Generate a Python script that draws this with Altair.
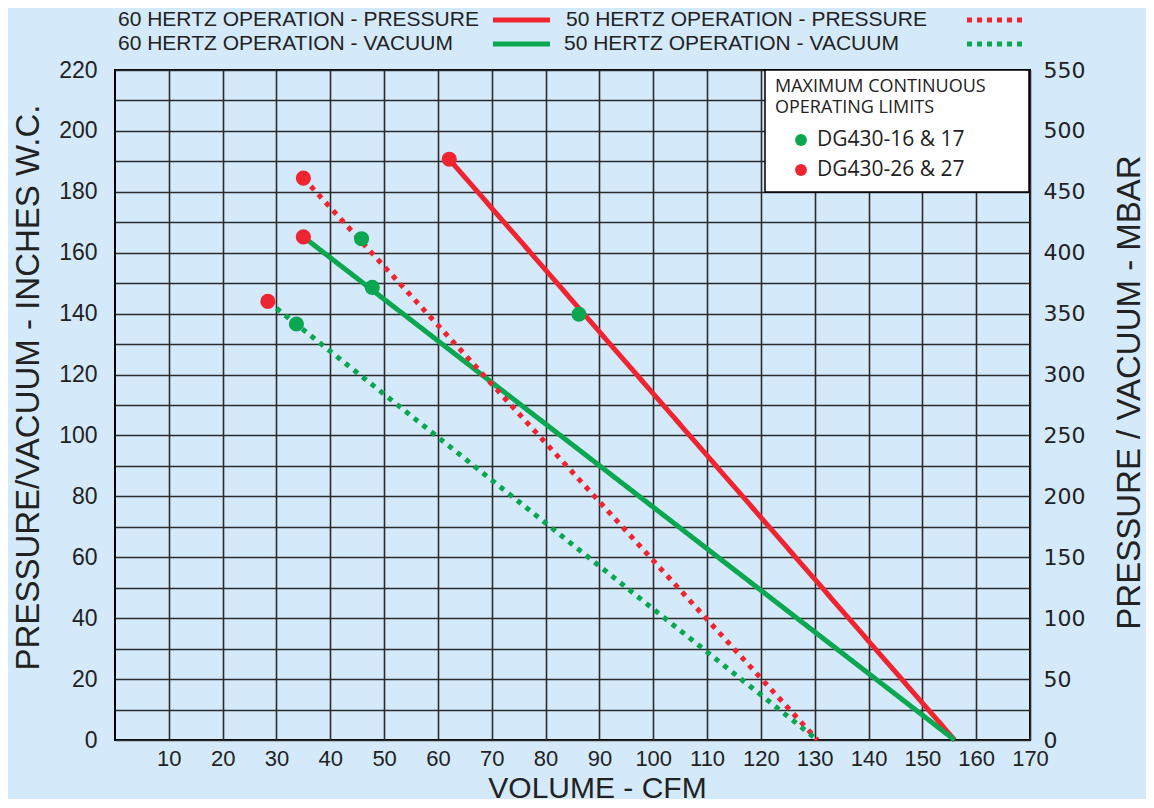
import altair as alt
import pandas as pd

# ---------------- data ----------------
series_names = [
    "60 HERTZ OPERATION - PRESSURE",
    "60 HERTZ OPERATION - VACUUM",
    "50 HERTZ OPERATION - PRESSURE",
    "50 HERTZ OPERATION - VACUUM",
]
p60_x = [62.1, 156.0]
p60_y = [190.7, 0.0]
v60_x = [35.0, 156.0]
v60_y = [165.2, 0.0]
p50_x = [35.0, 130.5]
p50_y = [184.5, 0.0]
v50_x = [28.4, 130.5]
v50_y = [144.0, 0.0]

limit_names = ["DG430-16 & 17", "DG430-26 & 27"]
green_x = [86.2, 47.8, 45.8, 33.7]
green_y = [139.8, 148.6, 164.6, 136.6]
red_x = [62.1, 35.0, 35.0, 28.4]
red_y = [190.7, 184.5, 165.2, 144.0]

box_title = ["MAXIMUM CONTINUOUS", "OPERATING LIMITS"]
x_ticks = list(range(10, 171, 10))
y_ticks = list(range(0, 221, 10))
mbar_ticks = list(range(0, 551, 50))
mbar_domain = [0, 550]

RED = "#ee2531"
GREEN = "#0aa650"
BG = "#d4eafb"
TXT = "#222222"

PLOT_H = 670

# ---------------- tables ----------------
rows = []
for name, xs, ys in zip(series_names, [p60_x, v60_x, p50_x, v50_x], [p60_y, v60_y, p50_y, v50_y]):
    for i, (xv, yv) in enumerate(zip(xs, ys)):
        rows.append({"series": name, "cfm": xv, "inwc": yv, "o": i})
lines_df = pd.DataFrame(rows)

green_df = pd.DataFrame({"cfm": green_x, "inwc": green_y})
red_df = pd.DataFrame({"cfm": red_x, "inwc": red_y})

xscale = alt.Scale(domain=[0, 170], nice=False, zero=False)
yscale = alt.Scale(domain=[0, 220], nice=False)

x_axis = alt.Axis(
    values=x_ticks, grid=True, gridColor="#2b2b2b", gridWidth=1.6, labelOverlap=False, labelFlush=False,
    ticks=False, domain=False, labelFont="Liberation Sans", labelFontSize=22,
    labelColor=TXT, labelPadding=8, title="VOLUME - CFM", titleFont="Liberation Sans",
    titleFontSize=30, titleFontWeight="normal", titleColor=TXT,
    titleX=482, titleY=57, titleAlign="center", titleBaseline="alphabetic",
)
y_axis = alt.Axis(
    values=y_ticks, labelExpr="datum.value % 20 == 0 ? datum.label : ''",
    grid=True, gridColor="#2b2b2b", gridWidth=1.6, ticks=False, domain=False, labelOverlap=False,
    labelFlush=False,
    labelFont="Liberation Sans", labelFontSize=23, labelColor=TXT, labelPadding=18,
    title="PRESSURE/VACUUM - INCHES W.C.", titleFont="Liberation Sans", titleFontSize=33,
    titleFontWeight="normal", titleColor=TXT, titleAngle=270, titleX=-87, titleY=317,
    titleAlign="center", titleBaseline="middle",
)

X = alt.X("cfm:Q", scale=xscale, axis=x_axis)
Y = alt.Y("inwc:Q", scale=yscale, axis=y_axis)

lines = alt.Chart(lines_df).mark_line(strokeWidth=5, strokeCap="butt").encode(
    x=X, y=Y,
    color=alt.Color("series:N", scale=alt.Scale(domain=series_names, range=[RED, GREEN, RED, GREEN]), legend=None),
    strokeDash=alt.StrokeDash("series:N", scale=alt.Scale(domain=series_names, range=[[1, 0], [1, 0], [5, 6], [5, 6]]), legend=None),
    detail="series:N",
    order="o:Q",
)

gpts = alt.Chart(green_df).mark_point(filled=True, size=230, opacity=1, shape="circle", color=GREEN).encode(x=X, y=Y)
rpts = alt.Chart(red_df).mark_point(filled=True, size=230, opacity=1, shape="circle", color=RED).encode(x=X, y=Y)

# ---------------- boxed legend (upper right) ----------------
box = alt.Chart(pd.DataFrame({"k": [0]})).mark_rect(fill="white", stroke="black", strokeWidth=1.5).encode(
    x=alt.value(650), x2=alt.value(914), y=alt.value(0), y2=alt.value(122)
)
box_layers = [box]
box_layers.append(
    alt.Chart(pd.DataFrame({"k": [0]})).mark_text(
        font="Open Sans", fontSize=18, color=TXT, align="left", baseline="alphabetic", lineHeight=21
    ).encode(text=alt.value(box_title), x=alt.value(660), y=alt.value(22))
)
for i, (name, col) in enumerate(zip(limit_names, [GREEN, RED])):
    box_layers.append(
        alt.Chart(pd.DataFrame({"t": [name]})).mark_point(filled=True, size=140, opacity=1, color=col).encode(
            x=alt.value(686), y=alt.value(70 + 30 * i)
        )
    )
    box_layers.append(
        alt.Chart(pd.DataFrame({"t": [name]})).mark_text(
            font="Open Sans", fontSize=21, color=TXT, align="left", baseline="middle"
        ).encode(text="t:N", x=alt.value(702), y=alt.value(70 + 30 * i))
    )

# ---------------- top legend ----------------
top_layers = []
tx = [3, 3, 451, 449]
ty = [-50, -26, -50, -26]
lx = [378, 378, 852, 852]
dashes = [[1, 0], [1, 0], [5, 5], [5, 5]]
cols = [RED, GREEN, RED, GREEN]
for i, name in enumerate(series_names):
    top_layers.append(
        alt.Chart(pd.DataFrame({"t": [name]})).mark_text(
            font="Liberation Sans", fontSize=21, color=TXT, align="left", baseline="middle"
        ).encode(text="t:N", x=alt.value(tx[i]), y=alt.value(ty[i]))
    )
    top_layers.append(
        alt.Chart(pd.DataFrame({"t": [name]})).mark_rule(
            color=cols[i], strokeWidth=5, strokeDash=dashes[i], strokeCap="butt"
        ).encode(x=alt.value(lx[i]), x2=alt.value(lx[i] + 57), y=alt.value(ty[i]))
    )

# ---------------- right mbar axis ----------------
mbar_df = pd.DataFrame({"mbar": mbar_domain, "cfm": [0, 0]})
right = alt.Chart(mbar_df).mark_point(opacity=0).encode(
    x=X,
    y=alt.Y("mbar:Q", scale=alt.Scale(domain=mbar_domain, nice=False), axis=alt.Axis(
        orient="right", values=mbar_ticks, grid=False, ticks=False, domain=False, labelOverlap=False,
        labelFlush=False,
        labelFont="DejaVu Sans", labelFontSize=22, labelColor=TXT, labelPadding=13,
        title="PRESSURE / VACUUM - MBAR", titleFont="Liberation Sans", titleFontSize=33,
        titleFontWeight="normal", titleColor=TXT, titleAngle=270, titleX=99, titleY=322,
        titleAlign="center", titleBaseline="middle",
    )),
)

main = alt.layer(lines, gpts, rpts, *box_layers, *top_layers)
chart = alt.layer(main, right).resolve_scale(y="independent").properties(
    width=915, height=PLOT_H, autosize="none",
    padding={"left": 107, "top": 62, "right": 116, "bottom": 59},
    background=BG,
).configure_view(stroke="black", strokeWidth=2, fill=BG)

chart.save("out.html", embed_options={"renderer": "svg", "actions": False})
